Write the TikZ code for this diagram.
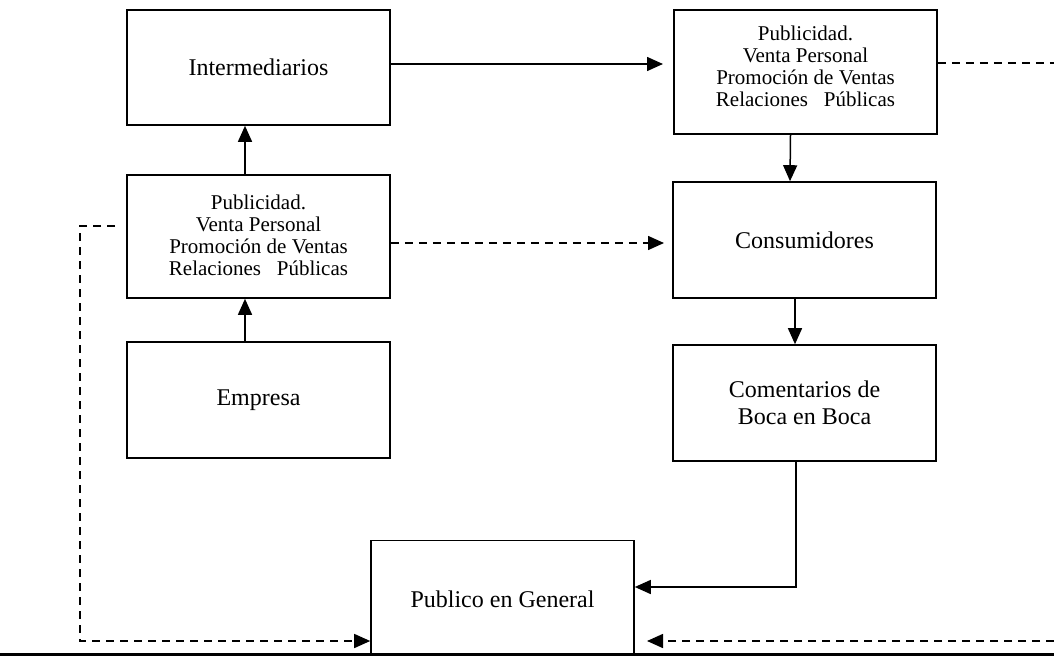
\documentclass[tikz,border=0pt]{standalone}
\usepackage{fontspec}
\setmainfont{Liberation Serif}
\usetikzlibrary{arrows.meta}
\begin{document}
\begin{tikzpicture}[x=1pt,y=-1pt,
  box/.style={draw,line width=1.6pt,minimum width=263pt,align=center,inner sep=0pt},
  bigtext/.style={font=\fontsize{24}{27}\selectfont},
  smalltext/.style={font=\fontsize{21}{22}\selectfont,align=center},
  conn/.style={line width=1.5pt,-{Triangle[length=16pt,width=14pt]}},
  dconn/.style={conn,dash pattern=on 8pt off 6pt}]
\useasboundingbox (0,0) rectangle (1054,658);

% boxes
\node[box,bigtext,minimum height=115pt] (intm) at (258.5,67.5) {Intermediarios};
\node[box,minimum height=124pt] (pubR) at (805.5,72) {};
\node[smalltext] (pubRt) at (805.5,66) {Publicidad.\\Venta Personal\\Promoción de Ventas\\Relaciones\ \ \ Públicas};
\node[box,minimum height=123pt] (pubL) at (258.5,236.5) {};
\node[smalltext] (pubLt) at (258.5,235) {Publicidad.\\Venta Personal\\Promoción de Ventas\\Relaciones\ \ \ Públicas};
\node[box,bigtext,minimum height=116pt] (emp) at (258.5,400) {Empresa};
\node[box,bigtext,minimum height=116pt] (cons) at (804.5,240) {Consumidores};
\node[box,bigtext,minimum height=116pt] (com) at (804.5,403) {Comentarios de\\Boca en Boca};
\node[box,minimum height=115pt] (gen) at (502.5,598) {};
\node[bigtext] (gent) at (502.5,599) {Publico en General};

% ground line
\coordinate (gl) at (0,654.5);
\coordinate (gr) at (1054,654.5);
\draw[line width=3.5pt] (gl) -- (gr);

% solid connectors
\coordinate (it) at (663,64);
\draw[conn] ([xshift=-13.5pt]emp.north) -- ([xshift=-13.5pt]pubL.south);
\draw[conn] ([xshift=-13.5pt]pubL.north) -- ([xshift=-13.5pt]intm.south);
\draw[conn] (intm.east |- it) -- (it);
\draw[conn] ([xshift=-15pt]pubR.south) -- ([xshift=-14.5pt]cons.north);
\draw[conn] ([xshift=-9.5pt]cons.south) -- ([xshift=-9.5pt]com.north);
\draw[conn] ([xshift=-8.5pt]com.south) -- (796,587) -- (gen.east |- 0,587);

% dashed connectors
\coordinate (ls) at (115,226);
\coordinate (rs) at (1054,641);
\coordinate (re) at (1054,63);
\coordinate (ct) at (664,243);
\coordinate (gt) at (647,641);
\draw[dconn] (pubL.east |- ct) -- (ct);
\draw[dconn,-] (pubR.east |- re) -- (re);
\draw[dconn] (ls) -- (80,226) -- (80,641) -- (gen.west |- rs);
\draw[dconn] (rs) -- (gt);
\end{tikzpicture}
\end{document}
